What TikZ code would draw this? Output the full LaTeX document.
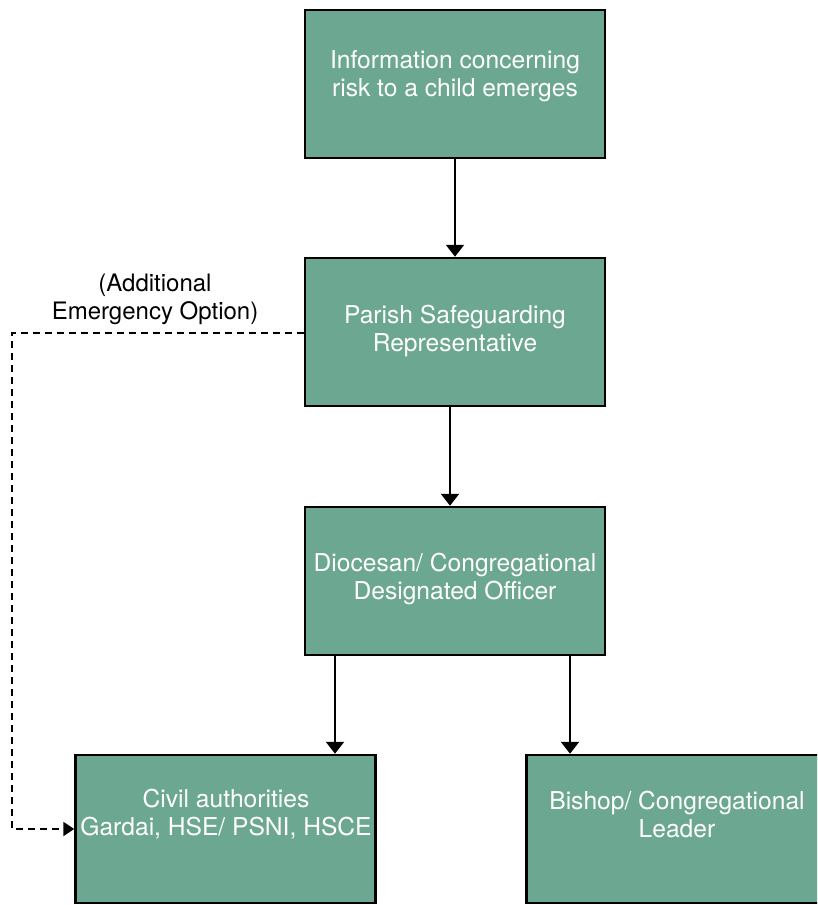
\documentclass[tikz,border=0pt]{standalone}
\usepackage{fontspec}
\setmainfont{TeX Gyre Heros}
\usetikzlibrary{arrows.meta}
\definecolor{boxgreen}{HTML}{6CA792}
\begin{document}
\begin{tikzpicture}[x=1pt,y=-1pt,
  box/.style={draw=black,line width=2.5pt,fill=boxgreen,minimum width=300pt,minimum height=148pt,inner sep=0pt},
  boxtext/.style={text=white,align=center,font=\fontsize{24.6}{28}\selectfont,inner sep=0pt},
  note/.style={text=black,align=center,font=\fontsize{24}{28}\selectfont,inner sep=0pt},
  arr/.style={line width=2.2pt,-{Triangle[width=18pt,length=12pt]}},
  darr/.style={line width=2.2pt,dash pattern=on 7pt off 5pt,-{Triangle[width=14pt,length=11pt]}}]
\clip (0,0) rectangle (817,905);
\useasboundingbox (0,0) rectangle (817,905);
\node[box] (b1) at (455,84) {};
\node[box] (b2) at (455,332) {};
\node[box] (b3) at (455,581) {};
\node[box] (b4) at (225.5,829) {};
\node[box,minimum width=303pt] (b5) at (678,829) {};
\node[boxtext] (t1) at (455,76) {Information concerning\\risk to a child emerges};
\node[boxtext] (t2) at (455,331) {Parish Safeguarding\\Representative};
\node[boxtext] (t3) at (455,579) {Diocesan/ Congregational\\Designated Officer};
\node[boxtext] (t4) at (226,814) {Civil authorities\\Gardai, HSE/ PSNI, HSCE};
\node[boxtext] (t5) at (677,814) {Bishop/ Congregational\\Leader};
\node[note] (n1) at (155,299) {(Additional\\Emergency Option)};
\draw[arr] (b1.south) -- (b2.north);
\draw[arr] ([xshift=-5pt]b2.south) -- ([xshift=-5pt]b2.south |- b3.north);
\draw[arr] ([xshift=-120pt]b3.south) -- ([xshift=-120pt]b3.south |- b4.north);
\draw[arr] ([xshift=115pt]b3.south) -- ([xshift=115pt]b3.south |- b5.north);
\coordinate (c1) at (12,333);
\coordinate (c2) at (12,829);
\draw[darr] (b2.west |- c1) -- (c1) -- (c2) -- (b4.west);
\end{tikzpicture}
\end{document}
